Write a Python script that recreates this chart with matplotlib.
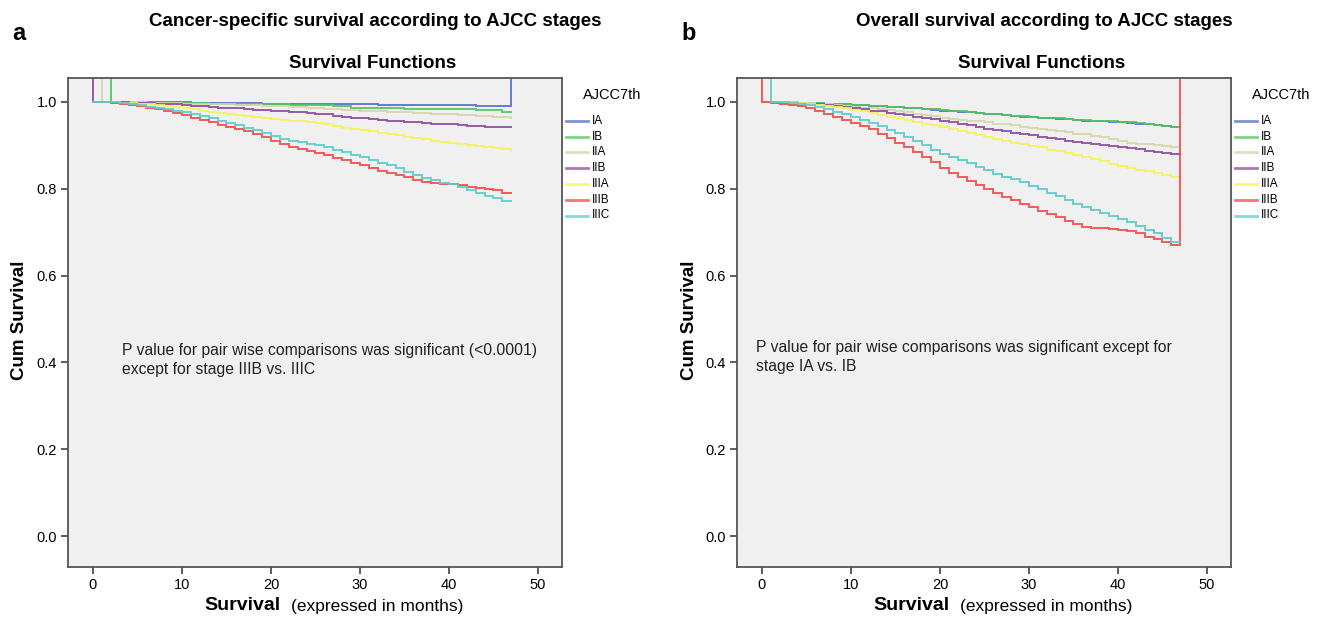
import numpy as np
import matplotlib
matplotlib.use("Agg")
import matplotlib.pyplot as plt

plt.rcParams["font.family"] = ["Liberation Sans", "DejaVu Sans"]

W, H = 1325, 618

STAGES = ["IA", "IB", "IIA", "IIB", "IIIA", "IIIB", "IIIC"]
COLORS = ["#5570c8", "#52c460", "#d8d4aa", "#8e4b9e", "#f6f25c", "#f04a4a", "#5ccccc"]

# cancer-specific survival, one value per month from the start month up to 47
CSS_START = [0, 2, 1, 0, 0, 0, 0]
CSS_IA = [1.000, 1.000, 1.000, 1.000, 0.999, 0.999, 0.999, 0.999, 0.999, 0.999, 0.999, 0.998,
          0.998, 0.998, 0.998, 0.997, 0.997, 0.997, 0.997, 0.996, 0.996, 0.996, 0.996, 0.995,
          0.995, 0.995, 0.995, 0.995, 0.995, 0.994, 0.994, 0.994, 0.993, 0.993, 0.993, 0.993,
          0.993, 0.992, 0.992, 0.992, 0.992, 0.992, 0.992, 0.991, 0.991, 0.991, 0.991, 0.991]
CSS_IB = [1.000, 1.000, 0.999, 0.999, 0.999, 0.998, 0.998, 0.998, 0.997, 0.997, 0.997, 0.996,
          0.996, 0.996, 0.995, 0.995, 0.995, 0.994, 0.994, 0.994, 0.993, 0.993, 0.993, 0.992,
          0.992, 0.991, 0.990, 0.987, 0.987, 0.986, 0.986, 0.985, 0.985, 0.984, 0.984, 0.983,
          0.983, 0.983, 0.983, 0.983, 0.983, 0.982, 0.982, 0.982, 0.976, 0.976]
CSS_IIA = [1.000, 1.000, 0.999, 0.999, 0.999, 0.998, 0.998, 0.997, 0.997, 0.996, 0.996, 0.995,
           0.995, 0.994, 0.994, 0.993, 0.993, 0.992, 0.991, 0.990, 0.990, 0.989, 0.988, 0.986,
           0.985, 0.984, 0.983, 0.982, 0.981, 0.980, 0.979, 0.978, 0.977, 0.976, 0.976, 0.975,
           0.974, 0.973, 0.972, 0.971, 0.970, 0.969, 0.968, 0.967, 0.966, 0.965, 0.963]
CSS_IIB = [1.000, 1.000, 0.999, 0.999, 0.998, 0.998, 0.997, 0.996, 0.995, 0.994, 0.992, 0.991,
           0.990, 0.988, 0.987, 0.986, 0.985, 0.983, 0.982, 0.981, 0.980, 0.978, 0.977, 0.976,
           0.975, 0.973, 0.971, 0.968, 0.966, 0.964, 0.962, 0.960, 0.958, 0.957, 0.956, 0.954,
           0.953, 0.951, 0.950, 0.949, 0.948, 0.947, 0.945, 0.944, 0.943, 0.943, 0.942, 0.942]
CSS_IIIA = [1.000, 1.000, 0.999, 0.998, 0.997, 0.995, 0.994, 0.992, 0.990, 0.988, 0.985, 0.983,
            0.980, 0.977, 0.974, 0.971, 0.969, 0.967, 0.965, 0.962, 0.960, 0.958, 0.957, 0.955,
            0.953, 0.951, 0.948, 0.944, 0.941, 0.938, 0.935, 0.932, 0.929, 0.926, 0.923, 0.920,
            0.917, 0.914, 0.911, 0.908, 0.905, 0.903, 0.901, 0.899, 0.896, 0.893, 0.891, 0.888]
CSS_IIIB = [1.000, 0.999, 0.998, 0.996, 0.993, 0.990, 0.987, 0.983, 0.979, 0.975, 0.970, 0.964,
            0.959, 0.953, 0.947, 0.942, 0.937, 0.932, 0.927, 0.919, 0.911, 0.903, 0.897, 0.892,
            0.887, 0.882, 0.877, 0.871, 0.866, 0.860, 0.854, 0.848, 0.842, 0.836, 0.831, 0.826,
            0.821, 0.816, 0.814, 0.812, 0.810, 0.808, 0.805, 0.802, 0.799, 0.797, 0.791, 0.791]
CSS_IIIC = [1.000, 1.000, 0.999, 0.997, 0.995, 0.992, 0.989, 0.986, 0.983, 0.980, 0.976, 0.971,
            0.967, 0.962, 0.957, 0.951, 0.946, 0.940, 0.935, 0.928, 0.921, 0.914, 0.910, 0.907,
            0.903, 0.900, 0.896, 0.890, 0.884, 0.878, 0.872, 0.866, 0.860, 0.854, 0.847, 0.839,
            0.831, 0.824, 0.819, 0.814, 0.810, 0.803, 0.796, 0.790, 0.784, 0.779, 0.771, 0.771]

# overall survival
OS_START = [0, 0, 0, 0, 0, 0, 1]
OS_IA = [1.000, 1.000, 0.999, 0.999, 0.998, 0.998, 0.997, 0.996, 0.995, 0.994, 0.993, 0.992,
         0.991, 0.990, 0.989, 0.988, 0.987, 0.986, 0.984, 0.982, 0.980, 0.979, 0.977, 0.976,
         0.974, 0.972, 0.971, 0.969, 0.968, 0.966, 0.965, 0.964, 0.962, 0.961, 0.960, 0.958,
         0.957, 0.956, 0.955, 0.954, 0.953, 0.951, 0.950, 0.948, 0.946, 0.944, 0.942, 0.942]
OS_IB = [1.000, 1.000, 0.999, 0.999, 0.998, 0.998, 0.997, 0.996, 0.995, 0.994, 0.993, 0.992,
         0.991, 0.990, 0.989, 0.988, 0.987, 0.986, 0.984, 0.983, 0.981, 0.979, 0.978, 0.976,
         0.975, 0.973, 0.971, 0.969, 0.968, 0.967, 0.966, 0.964, 0.963, 0.962, 0.961, 0.959,
         0.958, 0.957, 0.956, 0.955, 0.954, 0.953, 0.951, 0.949, 0.947, 0.945, 0.943, 0.943]
OS_IIA = [1.000, 1.000, 1.000, 0.999, 0.998, 0.997, 0.996, 0.994, 0.993, 0.991, 0.989, 0.987,
          0.985, 0.983, 0.981, 0.978, 0.976, 0.973, 0.970, 0.967, 0.964, 0.961, 0.959, 0.957,
          0.955, 0.953, 0.950, 0.948, 0.946, 0.943, 0.940, 0.937, 0.935, 0.932, 0.930, 0.927,
          0.925, 0.922, 0.918, 0.914, 0.910, 0.906, 0.904, 0.902, 0.901, 0.899, 0.896, 0.896]
OS_IIB = [1.000, 1.000, 0.999, 0.998, 0.997, 0.996, 0.994, 0.992, 0.990, 0.988, 0.986, 0.983,
          0.980, 0.978, 0.975, 0.972, 0.969, 0.966, 0.963, 0.960, 0.957, 0.953, 0.950, 0.946,
          0.942, 0.938, 0.935, 0.932, 0.929, 0.926, 0.923, 0.920, 0.917, 0.914, 0.911, 0.908,
          0.905, 0.903, 0.900, 0.898, 0.896, 0.893, 0.891, 0.888, 0.885, 0.883, 0.880, 0.880]
OS_IIIA = [1.000, 1.000, 0.999, 0.998, 0.997, 0.995, 0.993, 0.991, 0.988, 0.985, 0.982, 0.978,
           0.974, 0.970, 0.966, 0.962, 0.958, 0.954, 0.950, 0.946, 0.942, 0.938, 0.934, 0.929,
           0.924, 0.919, 0.915, 0.910, 0.906, 0.903, 0.899, 0.895, 0.890, 0.886, 0.882, 0.877,
           0.873, 0.868, 0.863, 0.858, 0.853, 0.848, 0.844, 0.840, 0.836, 0.832, 0.826, 0.826]
OS_IIIB = [1.000, 0.998, 0.996, 0.993, 0.990, 0.985, 0.979, 0.973, 0.966, 0.959, 0.952, 0.945,
           0.937, 0.927, 0.917, 0.906, 0.895, 0.884, 0.873, 0.861, 0.848, 0.837, 0.827, 0.818,
           0.809, 0.800, 0.791, 0.782, 0.773, 0.765, 0.757, 0.749, 0.741, 0.734, 0.726, 0.719,
           0.712, 0.710, 0.709, 0.707, 0.705, 0.703, 0.697, 0.690, 0.684, 0.678, 0.670, 0.670]
OS_IIIC = [1.000, 0.999, 0.997, 0.995, 0.992, 0.988, 0.983, 0.977, 0.971, 0.965, 0.959, 0.952,
           0.944, 0.936, 0.928, 0.919, 0.910, 0.900, 0.889, 0.881, 0.874, 0.867, 0.859, 0.851,
           0.843, 0.835, 0.828, 0.822, 0.815, 0.807, 0.799, 0.791, 0.783, 0.774, 0.766, 0.758,
           0.751, 0.744, 0.737, 0.730, 0.723, 0.715, 0.706, 0.697, 0.687, 0.677, 0.677]

X_TICKS = [0, 10, 20, 30, 40, 50]
Y_TICKS = [0.0, 0.2, 0.4, 0.6, 0.8, 1.0]


def fx(x):
    return x / W


def fy(y):
    return 1 - y / H


def panel(left_px, series, starts, top_from, top_to, letter, title, note, note_xy):
    ax = fig.add_axes([fx(left_px), fy(567), 494 / W, (567 - 78) / H])
    ax.set_facecolor("#f0f0f0")
    for i, (vals, st) in enumerate(zip(series, starts)):
        t = list(np.arange(st, st + len(vals), dtype=float))
        v = list(vals)
        # SPSS draws a vertical run up to the frame at some starts/ends
        if i in top_from:
            t = [t[0]] + t
            v = [2.0] + v
        if i in top_to:
            t = t + [t[-1]]
            v = v + [2.0]
        ax.plot(t, v, drawstyle="steps-post", color=COLORS[i], lw=1.4, alpha=0.9,
                solid_joinstyle="miter")
    ax.set_xlim(-2.8, 52.7)
    ax.set_ylim(-0.071, 1.055)
    ax.set_xticks(X_TICKS)
    ax.set_yticks(Y_TICKS)
    ax.set_yticklabels([f"{v:.1f}" for v in Y_TICKS])
    ax.tick_params(direction="out", length=5, width=1.1, color="#333333",
                   labelsize=10.5, top=False, right=False, pad=3)
    for s in ax.spines.values():
        s.set_color("#555555")
        s.set_linewidth(1.3)

    fig.text(fx(note_xy[0]), fy(note_xy[1]), note, fontsize=11.3, color="#222222",
             va="center", ha="left", linespacing=1.4)

    fig.text(fx(left_px + 305), fy(63), "Survival Functions", fontsize=13.5,
             fontweight="bold", ha="center", va="center")
    fig.text(fx(left_px + 307), fy(22), title, fontsize=13.5, fontweight="bold",
             ha="center", va="center")
    fig.text(fx(left_px - 56), fy(33), letter, fontsize=17, fontweight="bold",
             ha="left", va="center")
    fig.text(fx(left_px - 48), fy(320), "Cum Survival", fontsize=13.5, fontweight="bold",
             rotation=90, ha="center", va="center")
    fig.text(fx(left_px + 136), fy(606), "Survival", fontsize=14, fontweight="bold",
             ha="left", va="center")
    fig.text(fx(left_px + 223), fy(606), "(expressed in months)", fontsize=12.5,
             ha="left", va="center")

    # legend
    lx = left_px + 498
    fig.text(fx(lx + 17), fy(95), "AJCC7th", fontsize=10.5, ha="left", va="center")
    for i, st in enumerate(STAGES):
        yy = 120.7 + i * 15.8
        fig.add_artist(plt.Line2D([fx(lx), fx(lx + 22)], [fy(yy), fy(yy)],
                                  color=COLORS[i], lw=2, alpha=0.75))
        fig.text(fx(lx + 25.5), fy(yy), st, fontsize=8.5, ha="left", va="center")
    return ax


fig = plt.figure(figsize=(W / 100, H / 100), dpi=100)

panel(68, [CSS_IA, CSS_IB, CSS_IIA, CSS_IIB, CSS_IIIA, CSS_IIIB, CSS_IIIC], CSS_START,
      top_from=[1, 2, 3], top_to=[0], letter="a",
      title="Cancer-specific survival according to AJCC stages",
      note="P value for pair wise comparisons was significant (<0.0001)\nexcept for stage IIIB vs. IIIC",
      note_xy=(122, 360))
panel(737, [OS_IA, OS_IB, OS_IIA, OS_IIB, OS_IIIA, OS_IIIB, OS_IIIC], OS_START,
      top_from=[5, 6], top_to=[5], letter="b",
      title="Overall survival according to AJCC stages",
      note="P value for pair wise comparisons was significant except for\nstage IA vs. IB",
      note_xy=(756, 357))

fig.savefig("out.png", dpi=100, facecolor="white")
